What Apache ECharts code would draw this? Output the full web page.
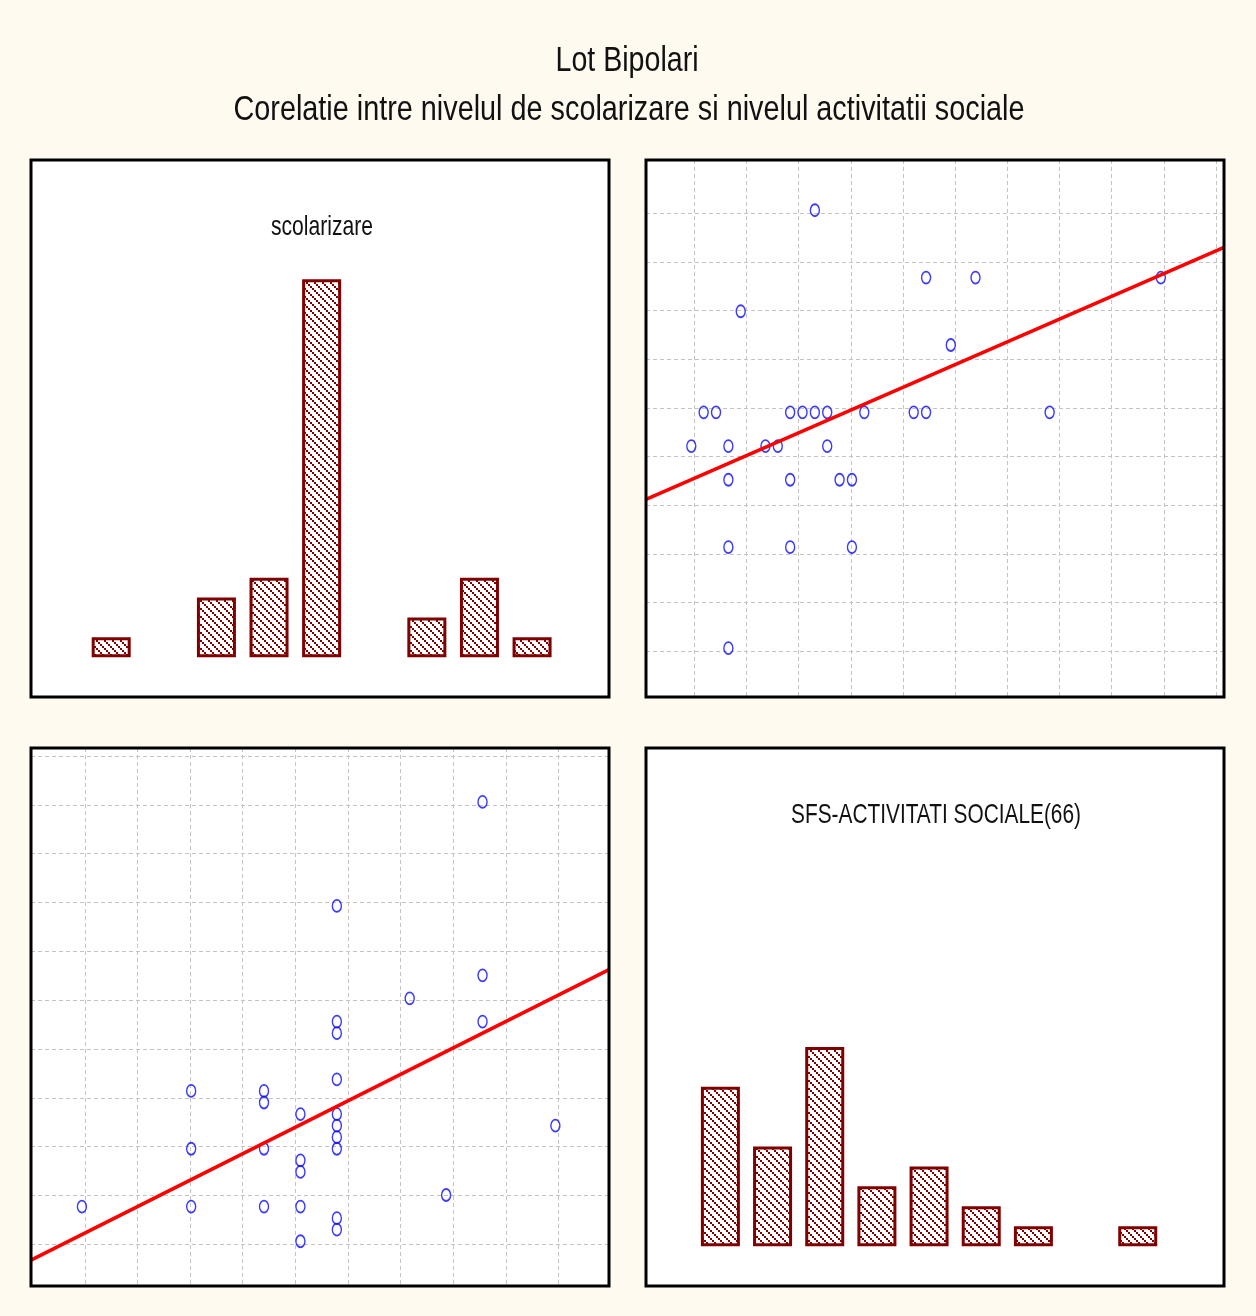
<!DOCTYPE html>
<html>
<head>
<meta charset="utf-8">
<script src="https://cdn.jsdelivr.net/npm/echarts@6/dist/echarts.min.js"></script>
<style>
html,body{margin:0;padding:0;background:#fffaf0;}
#chart{width:1256px;height:1316px;}
</style>
</head>
<body>
<div id="chart"></div>
<script>
// ---- data (29 visible cases) ----
const scolarizare = [5, 8, 8, 8, 10, 10, 10, 10, 11, 11, 11, 11, 11,
  12, 12, 12, 12, 12, 12, 12, 12, 12, 12, 14, 15, 16, 16, 16, 18];
const sfsActivitati = [3, 13, 8, 3, 13, 12, 8, 3, 11, 7, 6, 3, 0,
  29, 19, 18, 14, 11, 10, 9, 8, 2, 1, 21, 4, 38, 23, 19, 10];
// histogram counts (9 equal bins between min and max of each variable)
const scolHist = [1, 0, 3, 4, 19, 0, 2, 4, 1];
const sfsHist = [8, 5, 10, 3, 4, 2, 1, 0, 1];
// regression lines: [intercept, slope]
const fitScolOnSfs = [10.13, 0.160];   // scolarizare = a + b * SFS
const fitSfsOnScol = [-6.94, 1.583];   // SFS = a + b * scolarizare
// axis extents (data units)
const scolRangeX = [3.52, 19.39];
const scolRangeY = [3.64, 19.58];
const sfsRangeX = [-3.91, 42.87];
const sfsRangeY = [-3.61, 42.92];
const histCountAxis = [-2, 25];
const titleLines = ['Lot Bipolari', 'Corelatie intre nivelul de scolarizare si nivelul activitatii sociale'];
const varNames = ['scolarizare', 'SFS-ACTIVITATI SOCIALE(66)'];

// ---- derived bins ----
function binInfo(vals, nb) {
  const mn = Math.min(...vals), mx = Math.max(...vals);
  const bw = (mx - mn) / nb;
  return { mn, mx, bw,
    centers: Array.from({length: nb}, (_, i) => mn + bw * (i + 0.5)),
    edges: Array.from({length: nb + 3}, (_, i) => mn + bw * i) };
}
const scolB = binInfo(scolarizare, scolHist.length);
const sfsB = binInfo(sfsActivitati, sfsHist.length);
function inside(vals, r) { return vals.filter(v => v > r[0] + 1e-6 && v < r[1] - 1e-6); }

// hatch pattern
const pat = document.createElement('canvas');
pat.width = 8; pat.height = 8;
const pctx = pat.getContext('2d');
pctx.fillStyle = '#ffffff'; pctx.fillRect(0, 0, 8, 8);
pctx.fillStyle = '#800000';
for (let k = 0; k < 4; k++) pctx.fillRect(2 * k, 2 * k, 2, 2);

const red = '#800000';
const gridRects = [
  {left: 31, top: 160, width: 578, height: 537},
  {left: 646, top: 160, width: 578, height: 537},
  {left: 31, top: 748, width: 578, height: 538},
  {left: 646, top: 748, width: 578, height: 538}
];
const grids = gridRects.map(g => Object.assign({show: true, backgroundColor: '#ffffff', borderWidth: 0}, g));

const dashed = {color: '#c4c4c4', width: 1, type: [4, 3]};
function axis(grid, r, gridVals) {
  const a = {type: 'value', gridIndex: grid, min: r[0], max: r[1],
    axisLine: {show: false}, axisLabel: {show: false},
    axisTick: {show: false}, splitLine: {show: false}};
  if (gridVals) {
    a.axisTick = {show: false, customValues: inside(gridVals, r)};
    a.splitLine = {show: true, lineStyle: dashed};
  }
  return a;
}
const scolGrid = scolB.edges.slice(0, 10);
const sfsGrid = sfsB.edges.slice(0, 11);

const xAxis = [
  axis(0, scolRangeX),
  axis(1, sfsRangeX, sfsGrid),
  axis(2, scolRangeX, scolGrid),
  axis(3, sfsRangeX)
];
const yAxis = [
  axis(0, histCountAxis),
  axis(1, scolRangeY, scolGrid),
  axis(2, sfsRangeY, sfsGrid),
  axis(3, histCountAxis)
];

function barSeries(i, centers, counts) {
  return {type: 'bar', xAxisIndex: i, yAxisIndex: i, barWidth: 39, silent: true,
    data: centers.map((c, k) => [c, counts[k]]).filter(d => d[1] > 0),
    itemStyle: {color: {image: pat, repeat: 'repeat'}, borderColor: red, borderWidth: 3}};
}
const scatterStyle = {color: 'rgba(0,0,0,0)', borderColor: '#0a0aff', borderWidth: 1.6};
function scatterSeries(i, xs, ys) {
  return {type: 'scatter', xAxisIndex: i, yAxisIndex: i, silent: true, symbol: 'circle',
    symbolSize: [9, 12], symbolOffset: [-3, -3], itemStyle: scatterStyle,
    data: xs.map((x, k) => [x, ys[k]])};
}
function fitSeries(i, fit, r) {
  return {type: 'line', xAxisIndex: i, yAxisIndex: i, silent: true, showSymbol: false, clip: true,
    lineStyle: {color: '#ff0000', width: 3.5}, z: 3,
    data: r.map(x => [x, fit[0] + fit[1] * x])};
}

const series = [
  barSeries(0, scolB.centers, scolHist),
  scatterSeries(1, sfsActivitati, scolarizare),
  fitSeries(1, fitScolOnSfs, sfsRangeX),
  scatterSeries(2, scolarizare, sfsActivitati),
  fitSeries(2, fitSfsOnScol, scolRangeX),
  barSeries(3, sfsB.centers, sfsHist)
];

// text (narrow sans look)
const mctx = document.createElement('canvas').getContext('2d');
function narrowText(str, x, y, size, width) {
  const font = size + 'px "Liberation Sans", Arial, sans-serif';
  mctx.font = font;
  const w = mctx.measureText(str).width;
  return {type: 'text', x: x, y: y, scaleX: width / w, z: 10, silent: true,
    style: {text: str, font: font, fill: '#111111', textAlign: 'center', textVerticalAlign: 'middle'}};
}
const borders = gridRects.map(g => ({type: 'rect', z: 20, silent: true,
  shape: {x: g.left, y: g.top, width: g.width, height: g.height},
  style: {fill: null, stroke: '#000000', lineWidth: 3}}));

const chart = echarts.init(document.getElementById('chart'), null, {renderer: 'canvas'});
chart.setOption({
  backgroundColor: '#fffaf0',
  animation: false,
  grid: grids,
  xAxis: xAxis,
  yAxis: yAxis,
  series: series,
  graphic: borders.concat([
    narrowText(titleLines[0], 627, 61, 35, 143),
    narrowText(titleLines[1], 629, 110, 35, 791),
    narrowText(varNames[0], 322, 227, 28, 102),
    narrowText(varNames[1], 936, 815, 28, 290)
  ])
});
</script>
</body>
</html>
